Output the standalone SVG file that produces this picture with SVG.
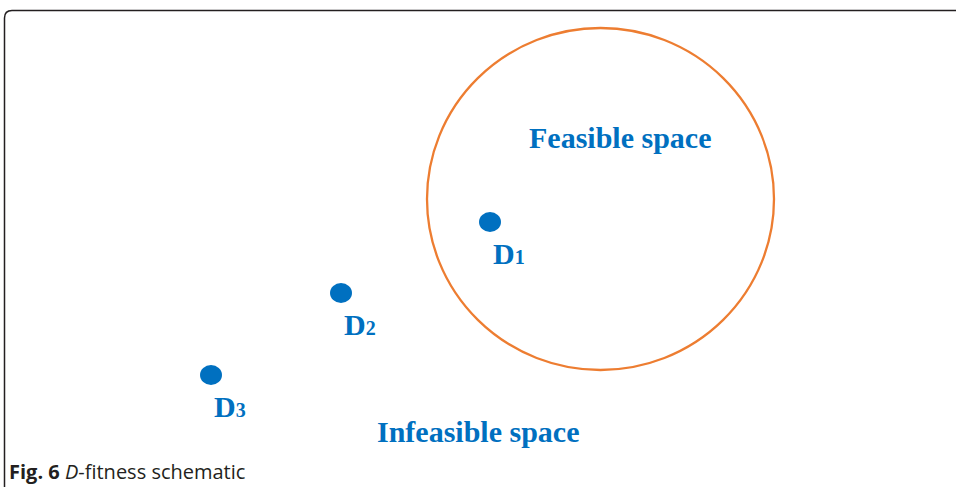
<svg xmlns="http://www.w3.org/2000/svg" width="956" height="487" viewBox="0 0 956 487">
<style>
.lbl{font-family:"Liberation Serif",serif;font-weight:bold;fill:#0070C0;font-size:30px}
.sub{font-size:20px}
.dot{fill:#0070C0}
.cap{font-family:"Open Sans",sans-serif;font-size:20px;fill:#231F20}
</style>
<rect width="956" height="487" fill="#fff"/>
<path d="M4.5,487 V18 Q4.5,10.5 12,10.5 H956" fill="none" stroke="#231F20" stroke-width="1.5"/>
<g id="feasible">
<ellipse cx="600.5" cy="199" rx="173.5" ry="171" fill="none" stroke="#ED7D31" stroke-width="2.3"/>
<text class="lbl" x="529" y="148">Feasible space</text>
</g>
<g id="D1"><ellipse class="dot" cx="490" cy="222" rx="11" ry="10"/><text class="lbl" x="493" y="264">D<tspan class="sub">1</tspan></text></g>
<g id="D2"><ellipse class="dot" cx="341" cy="293" rx="11" ry="10"/><text class="lbl" x="344" y="335">D<tspan class="sub">2</tspan></text></g>
<g id="D3"><ellipse class="dot" cx="211" cy="375" rx="11" ry="10"/><text class="lbl" x="214" y="417">D<tspan class="sub">3</tspan></text></g>
<g id="infeasible"><text class="lbl" x="377" y="442">Infeasible space</text></g>
<g id="connectors"/>
<text class="cap" x="9" y="479"><tspan font-weight="bold">Fig. 6</tspan> <tspan font-style="italic">D</tspan>-fitness schematic</text>
</svg>
